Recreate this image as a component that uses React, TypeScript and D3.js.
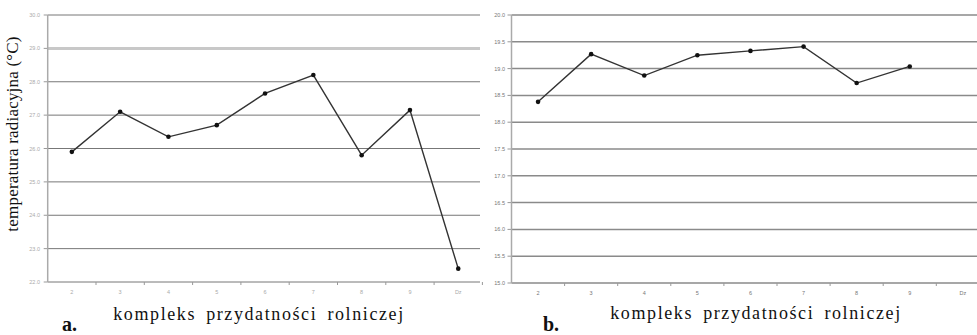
import React from "react";
import * as d3 from "d3";

const categoriesA = ["2", "3", "4", "5", "6", "7", "8", "9", "Dz"];
const valuesA = [25.9, 27.1, 26.35, 26.7, 27.65, 28.2, 25.8, 27.15, 22.4];
const ticksA = [22, 23, 24, 25, 26, 27, 28, 29, 30];

const categoriesB = ["2", "3", "4", "5", "6", "7", "8", "9", "Dz"];
const valuesB = [18.38, 19.27, 18.87, 19.25, 19.33, 19.41, 18.73, 19.04];
const ticksB = [15, 15.5, 16, 16.5, 17, 17.5, 18, 18.5, 19, 19.5, 20];

const yTitle = "temperatura radiacyjna (°C)";
const xTitle = "kompleks przydatności rolniczej";

const SERIF = "'Liberation Serif', Tinos, 'Times New Roman', Times, 'DejaVu Serif', serif";

function Panel({ cats, vals, ticks, x0, x1, bandW, top, bottom, labelX, highlight, gridColor, gridW, labelColor }: any) {
  const x = d3.scaleBand().domain(cats).range([x0, x0 + bandW * cats.length]);
  const y = d3.scaleLinear().domain([ticks[0], ticks[ticks.length - 1]]).range([bottom, top]);
  const line = d3.line<number>().x((_, i) => (x(cats[i]) as number) + x.bandwidth() / 2).y((d) => y(d));
  return (
    <g>
      {ticks.map((t: number, i: number) => (
        <g key={i}>
          <line x1={x0} x2={x1} y1={y(t)} y2={y(t)}
            stroke={i === highlight ? "#c8c8c8" : gridColor}
            strokeWidth={i === highlight ? 3 : gridW} />
          <line x1={x0 - 4} x2={x0} y1={y(t)} y2={y(t)} stroke="#999" />
          <text x={labelX} y={y(t) + 2} fontSize={5.5} fill={labelColor} textAnchor="end" fontFamily="Arial, sans-serif">
            {t.toFixed(1)}
          </text>
        </g>
      ))}
      <line x1={x0} x2={x0} y1={top} y2={bottom} stroke="#aaa" strokeWidth={1.5} />
      {cats.map((c: string, i: number) => (
        <g key={c}>
          <line x1={(x(c) as number) + x.bandwidth()} x2={(x(c) as number) + x.bandwidth()} y1={bottom} y2={bottom + 3} stroke="#999" />
          <text x={(x(c) as number) + x.bandwidth() / 2} y={bottom + 12} fontSize={5.5} fill={labelColor} textAnchor="middle" fontFamily="Arial, sans-serif">
            {c}
          </text>
        </g>
      ))}
      <path d={line(vals) as string} fill="none" stroke="#333" strokeWidth={1.4} />
      {vals.map((v: number, i: number) => (
        <circle key={i} cx={(x(cats[i]) as number) + x.bandwidth() / 2} cy={y(v)} r={2.3} fill="#111" />
      ))}
    </g>
  );
}

export default function App() {
  return (
    <svg width={977} height={335} style={{ position: "absolute", left: 0, top: 0, background: "#fff" }}>
      <Panel cats={categoriesA} vals={valuesA} ticks={ticksA} x0={47.7} x1={480} bandW={48.3}
        top={15} bottom={282} labelX={40} highlight={7} gridColor="#777" gridW={1} labelColor="#aaa" />
      <Panel cats={categoriesB} vals={valuesB} ticks={ticksB} x0={511.5} x1={977} bandW={53.1}
        top={15} bottom={283} labelX={505} highlight={-1} gridColor="#8a8a8a" gridW={1.5} labelColor="#777" />
      <text transform="translate(18,134) rotate(-90)" textAnchor="middle" fontSize={17} letterSpacing={0.2}
        fontFamily={SERIF} fill="#111">{yTitle}</text>
      <text x={259} y={320} textAnchor="middle" fontSize={18} letterSpacing={1.6} wordSpacing={4}
        fontFamily={SERIF} fill="#111">{xTitle}</text>
      <text x={756} y={319} textAnchor="middle" fontSize={18} letterSpacing={1.6} wordSpacing={4}
        fontFamily={SERIF} fill="#111">{xTitle}</text>
      <text x={62} y={331} fontSize={20} fontWeight="bold"
        fontFamily={SERIF} fill="#111">a.</text>
      <text x={543} y={331} fontSize={20} fontWeight="bold"
        fontFamily={SERIF} fill="#111">b.</text>
    </svg>
  );
}
